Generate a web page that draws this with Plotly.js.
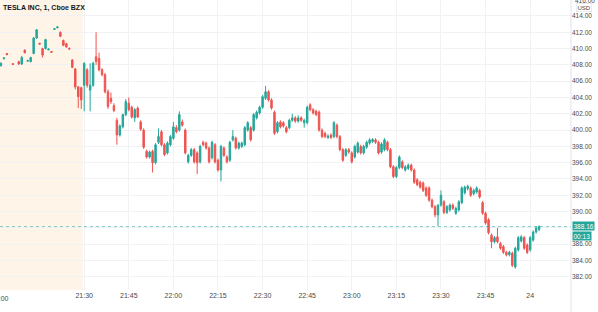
<!DOCTYPE html>
<html>
<head>
<meta charset="utf-8">
<script src="https://cdn.plot.ly/plotly-3.0.1.min.js"></script>
<style>html,body{margin:0;padding:0;background:#fff;}#chart{width:598px;height:312px;}</style>
</head>
<body>
<div id="chart"></div>
<script>
// 1-minute candles, TESLA INC, Cboe BZX
const times = [
"21:02","21:03","21:04","21:06","21:08","21:09","21:10","21:11","21:12","21:13","21:14","21:15","21:16","21:17","21:18","21:19","21:20","21:21","21:22","21:23","21:24","21:25","21:26","21:27","21:28","21:29",
"21:30","21:31","21:32","21:33","21:34","21:35","21:36","21:37","21:38","21:39","21:40","21:41","21:42","21:43","21:44","21:45","21:46","21:47","21:48","21:49","21:50","21:51","21:52","21:53","21:54","21:55","21:56","21:57","21:58","21:59",
"22:00","22:01","22:02","22:03","22:04","22:05","22:06","22:07","22:08","22:09","22:10","22:11","22:12","22:13","22:14","22:15","22:16","22:17","22:18","22:19","22:20","22:21","22:22","22:23","22:24","22:25","22:26","22:27","22:28","22:29",
"22:30","22:31","22:32","22:33","22:34","22:35","22:36","22:37","22:38","22:39","22:40","22:41","22:42","22:43","22:44","22:45","22:46","22:47","22:48","22:49","22:50","22:51","22:52","22:53","22:54","22:55","22:56","22:57","22:58","22:59",
"23:00","23:01","23:02","23:03","23:04","23:05","23:06","23:07","23:08","23:09","23:10","23:11","23:12","23:13","23:14","23:15","23:16","23:17","23:18","23:19","23:20","23:21","23:22","23:23","23:24","23:25","23:26","23:27","23:28","23:29",
"23:30","23:31","23:32","23:33","23:34","23:35","23:36","23:37","23:38","23:39","23:40","23:41","23:42","23:43","23:44","23:45","23:46","23:47","23:48","23:49","23:50","23:51","23:52","23:53","23:54","23:55","23:56","23:57","23:58","23:59",
"00:00","00:01","00:02","00:03"];

const open = [
407.9,408.75,409.4,408.15,408.4,408.1,409.8,408.45,408.4,409.4,411.3,410.65,410.0,410.0,409.85,409.65,412.35,412.55,412.0,411.0,410.6,410.05,408.6,407.5,405.3,405.2,
405.5,407.4,404.9,405.5,409.0,408.8,407.4,406.8,404.7,403.9,403.0,401.2,399.4,400.4,401.9,403.3,402.8,401.5,402.7,401.0,400.0,397.4,396.7,397.4,396.0,398.5,399.8,398.2,397.2,398.2,
399.0,400.3,400.0,401.0,400.0,396.1,396.9,397.6,397.2,396.1,398.5,398.4,397.8,396.6,398.2,396.3,395.1,397.8,396.7,396.3,398.8,399.0,397.8,398.0,398.2,400.0,400.3,400.0,401.5,402.1,
402.8,403.9,404.7,403.7,402.2,399.8,401.0,400.9,400.3,400.3,401.2,401.5,401.1,401.5,400.9,400.9,403.1,402.5,402.3,402.2,400.0,399.6,399.1,399.4,399.2,400.6,399.2,397.6,396.9,397.6,
397.2,396.7,397.3,398.0,397.2,397.9,398.4,398.6,398.8,398.5,397.3,397.6,398.5,397.6,395.5,394.3,395.4,396.1,395.1,395.3,395.7,395.1,393.9,393.6,393.5,392.9,392.9,391.4,390.6,389.6,
390.8,391.2,389.9,390.2,390.8,389.8,390.2,391.1,392.3,392.8,392.9,392.2,392.4,392.6,391.1,389.8,389.0,387.1,386.3,386.9,386.1,385.7,385.0,384.7,384.9,383.2,385.3,386.4,386.8,385.9,
385.3,386.5,387.5,387.8];

const high = [
408.3,408.9,409.45,408.2,408.5,409.1,409.9,408.6,409.0,411.4,412.4,410.7,410.1,411.2,410.0,409.7,412.5,412.75,412.1,411.1,410.7,410.1,408.7,407.6,405.4,405.3,
408.3,407.6,408.2,408.4,412.0,409.5,407.6,407.0,405.0,404.6,403.3,401.5,400.7,402.0,403.8,404.0,403.0,402.7,402.9,401.2,400.2,397.6,397.5,397.6,398.4,400.2,400.0,398.4,398.6,399.4,
401.0,400.6,402.3,401.3,400.2,397.1,397.8,397.8,397.4,398.2,398.7,398.6,398.0,398.7,398.4,396.5,398.2,398.0,396.9,398.7,400.0,399.2,398.6,398.6,400.5,401.1,400.5,402.1,402.4,403.0,
404.3,405.4,404.9,403.9,402.4,401.1,401.2,401.1,400.5,401.4,402.0,401.7,401.8,401.7,401.4,403.0,403.3,402.7,402.5,402.4,400.2,399.8,399.5,399.6,401.1,400.8,399.4,397.8,397.8,397.8,
397.4,398.2,398.6,398.2,398.2,398.7,399.0,399.0,399.0,398.7,398.5,399.0,398.7,397.8,395.7,395.6,396.9,396.3,395.7,395.9,395.9,395.3,394.1,393.8,393.7,393.1,393.1,391.6,390.8,390.9,
392.6,391.4,390.8,391.0,391.0,390.6,391.4,393.1,393.2,393.3,393.1,392.8,393.1,392.8,391.3,390.0,389.2,387.3,387.0,388.0,386.3,385.9,385.2,385.2,385.1,385.7,387.0,387.1,387.0,386.1,
387.0,387.7,388.2,388.3];

const low = [
407.8,408.7,409.2,408.0,408.0,408.0,409.4,408.4,408.3,409.3,411.2,410.5,408.9,409.9,409.8,409.5,412.3,412.5,411.4,410.3,410.1,409.9,407.6,405.0,402.7,402.6,
402.3,405.2,402.3,405.3,408.0,407.2,406.6,404.5,402.6,403.2,402.2,398.2,399.2,400.2,401.7,402.3,401.4,401.0,401.5,399.9,397.7,396.5,396.5,394.8,395.8,398.3,398.0,396.8,397.0,398.0,
398.8,399.6,399.8,400.4,397.0,395.9,396.7,395.9,394.6,395.9,398.0,397.6,395.9,396.4,395.9,394.9,393.7,396.7,395.9,396.1,398.6,397.6,397.6,397.8,398.0,399.8,398.6,399.8,401.3,401.9,
402.6,403.7,403.5,402.5,399.4,399.6,400.2,400.3,399.6,400.1,401.0,400.9,400.9,401.0,400.3,400.7,402.3,401.9,401.7,399.8,399.0,399.0,398.9,398.9,399.0,399.0,397.4,396.1,396.7,397.1,
395.9,396.5,397.1,397.0,397.0,397.7,398.2,398.4,398.3,397.0,397.1,397.4,397.4,395.3,394.1,394.1,395.2,395.2,394.9,395.1,394.9,393.4,393.1,392.8,392.4,391.8,391.2,390.4,389.3,388.2,
390.6,389.7,389.7,390.0,390.2,389.6,390.0,390.9,392.1,392.6,391.8,392.0,392.2,391.6,389.6,388.4,387.2,385.5,386.1,386.1,385.3,384.8,384.5,384.5,383.2,383.0,385.1,386.2,385.3,384.8,
385.1,386.3,387.3,387.6];

const close = [
408.2,408.85,409.25,408.05,408.1,408.9,409.5,408.55,408.9,411.3,412.3,410.55,409.2,411.1,409.95,409.55,412.45,412.65,411.5,410.4,410.2,409.95,407.7,405.3,404.1,403.7,
408.2,405.5,405.5,408.2,408.4,407.4,406.8,404.7,402.9,403.5,402.4,399.4,400.5,401.9,403.5,402.5,401.6,402.5,401.6,400.1,397.9,396.7,397.3,396.0,398.2,399.2,398.2,397.0,398.4,399.2,
400.4,399.8,401.9,400.6,397.2,396.9,397.6,396.1,396.0,398.0,398.2,397.8,396.1,398.5,396.1,395.1,398.0,396.9,396.1,398.5,399.2,397.8,398.4,398.4,400.3,400.9,398.8,401.9,402.2,402.8,
404.1,404.7,403.7,402.7,399.6,400.9,400.4,400.5,399.8,401.2,401.5,401.1,401.5,401.2,401.2,402.8,402.5,402.1,401.9,400.0,399.2,399.2,399.25,399.1,400.9,399.2,397.6,396.3,397.6,397.3,
396.1,398.0,398.4,397.2,398.0,398.5,398.8,398.85,398.5,397.2,398.3,398.8,397.6,395.5,394.3,395.4,396.7,395.4,395.5,395.7,395.1,393.6,393.3,393.0,392.6,392.0,391.4,390.6,389.6,390.8,
392.0,389.9,390.6,390.8,390.4,390.4,391.2,392.9,393.0,393.1,392.0,392.6,392.9,391.8,389.8,388.6,387.4,386.3,386.8,386.3,385.5,385.0,384.7,385.0,383.4,385.5,386.8,386.9,385.5,385.0,
386.8,387.5,388.0,388.16];

const lastPrice = 388.16;
const countdown = "00:13";
const symbolTitle = "TESLA INC, 1, Cboe BZX";
const tickTimes = ["21:30","21:45","22:00","22:15","22:30","22:45","23:00","23:15","23:30","23:45","00:00"];
const tickLabels = ["21:30","21:45","22:00","22:15","22:30","22:45","23:00","23:15","23:30","23:45","24"];
const priceTicks = [382,384,386,388,390,392,394,396,398,400,402,404,406,408,410,412,414];
const hiddenPriceTick = 388; // covered by the last-price tag in the reference

const DAY1 = "2021-03-23", DAY2 = "2021-03-24";
function toDate(t) {
  const hh = parseInt(t.slice(0, 2), 10);
  return (hh < 12 ? DAY2 : DAY1) + " " + t + (t.length === 5 ? ":00" : "");
}

const UP = "#26a69a", DOWN = "#ef5350";
const trace = {
  type: "candlestick",
  x: times.map(toDate),
  open: open, high: high, low: low, close: close,
  increasing: {line: {color: UP, width: 1}, fillcolor: UP},
  decreasing: {line: {color: DOWN, width: 1}, fillcolor: DOWN},
  whiskerwidth: 0,
  hoverinfo: "skip",
  showlegend: false
};

const font = "Liberation Sans, Arial, sans-serif";
const grid = "#f0f2f5";
const tickCol = "#4a4a4a";
const layout = {
  width: 598, height: 312,
  margin: {l: 0, r: 27, t: 0, b: 22},
  paper_bgcolor: "#ffffff",
  plot_bgcolor: "#ffffff",
  showlegend: false,
  boxgap: 0.3,
  font: {family: font, size: 7, color: tickCol},
  xaxis: {
    type: "date",
    range: [toDate("21:01:41"), toDate("00:13:44")],
    tickvals: tickTimes.map(toDate),
    ticktext: tickLabels,
    showgrid: true, gridcolor: grid, gridwidth: 1,
    zeroline: false, showline: false, ticks: "",
    tickfont: {family: font, size: 7, color: tickCol},
    rangeslider: {visible: false},
    fixedrange: true
  },
  yaxis: {
    side: "right",
    range: [380.38, 415.96],
    tickvals: priceTicks,
    ticktext: priceTicks.map(v => v === hiddenPriceTick ? "" : v.toFixed(2)),
    showgrid: true, gridcolor: grid, gridwidth: 1,
    zeroline: false, showline: false, ticks: "",
    tickfont: {family: font, size: 6.5, color: tickCol},
    fixedrange: true
  },
  shapes: [
    {type: "rect", layer: "below", xref: "x", yref: "paper",
     x0: toDate("20:55"), x1: toDate("21:29:30"), y0: 0, y1: 1,
     fillcolor: "#fef4e8", line: {width: 0}},
    {type: "line", layer: "above", xref: "paper", yref: "y",
     x0: 0, x1: 1, y0: lastPrice, y1: lastPrice,
     line: {color: UP, width: 1, dash: "dot"}, opacity: 0.55},
    {type: "line", xref: "paper", yref: "paper",
     x0: 1, x1: 1, y0: -0.08, y1: 1,
     line: {color: "#e0e3eb", width: 1}}
  ],
  annotations: [
    {text: symbolTitle, xref: "paper", yref: "paper", x: 0, y: 1,
     xanchor: "left", yanchor: "top", xshift: 1, yshift: -2, showarrow: false,
     font: {family: font, size: 7, color: "#131722", weight: "bold"}},
    {text: "21:00", xref: "paper", yref: "paper", x: 0, y: 0,
     xanchor: "center", yanchor: "top", yshift: -3, showarrow: false,
     font: {family: font, size: 7, color: tickCol}},
    {text: "416.00", xref: "paper", yref: "paper", x: 1, y: 1,
     xanchor: "left", yanchor: "middle", xshift: 2, showarrow: false,
     font: {family: font, size: 6.5, color: tickCol}},
    {text: "USD", xref: "paper", yref: "paper", x: 1, y: 1,
     xanchor: "left", yanchor: "middle", xshift: 5, yshift: -7, showarrow: false,
     bordercolor: "#d6d9e0", borderwidth: 0.5, borderpad: 1,
     font: {family: font, size: 6, color: tickCol}},
    {text: lastPrice.toFixed(2), xref: "paper", yref: "y", x: 1, y: lastPrice,
     xanchor: "left", yanchor: "middle", xshift: 1, yshift: 1, showarrow: false,
     bgcolor: UP, borderpad: 0.5,
     font: {family: font, size: 6.5, color: "#ffffff"}},
    {text: countdown, xref: "paper", yref: "y", x: 1, y: lastPrice,
     xanchor: "left", yanchor: "middle", xshift: 1, yshift: -9, showarrow: false,
     bgcolor: UP, borderpad: 0.5,
     font: {family: font, size: 6.5, color: "#ffffff"}}
  ]
};

Plotly.newPlot("chart", [trace], layout, {staticPlot: true, displayModeBar: false});
</script>
</body>
</html>
